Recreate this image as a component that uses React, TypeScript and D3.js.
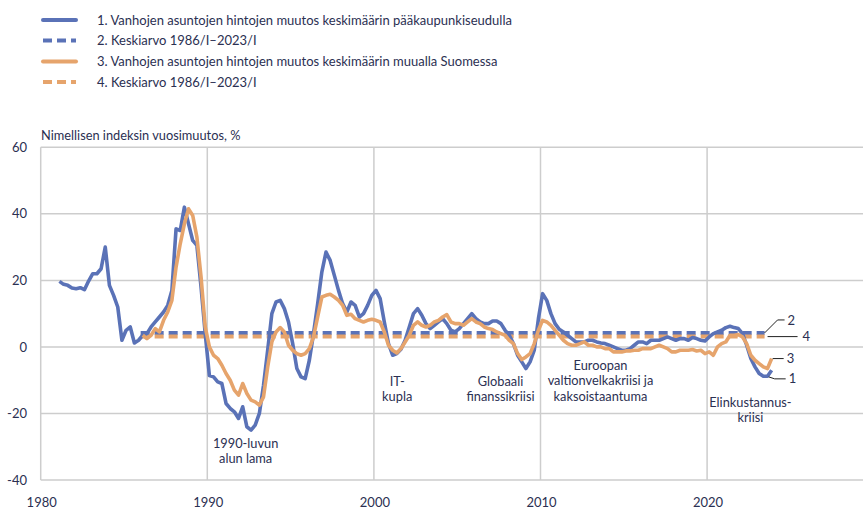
import React from "react";
import * as d3 from "d3";

// ---- data ----
// Quarterly annual change (%) of nominal index, old dwellings
const capitalStart = 1981; // first quarter 1981/I
const capitalValues: number[] = [
  19.7, 18.8, 18.5, 17.7,
  17.5, 17.8, 17.2, 19.8,
  22, 22, 23.5, 30,
  18.5, 15.5, 12, 2,
  5, 6, 1.2, 2,
  3.5, 4, 6, 7.5,
  9, 10.5, 12.5, 17,
  35.5, 35, 42, 37,
  32, 30.5, 18, 4,
  -8.6, -9, -10.5, -11,
  -17, -18.5, -19.5, -21.5,
  -18, -24, -25, -23.5,
  -20, -11.5, -1, 10,
  13.5, 14, 11.5, 7.5,
  1, -6.5, -9, -9.5,
  -4, 4, 13, 22.5,
  28.5, 26, 21.5, 17,
  13, 10.5, 13.5, 12.5,
  9, 10, 12.5, 15.5,
  17, 14.5, 7.5, 1,
  -2.5, -2, -0.7, 2,
  6, 10, 11.5, 9.5,
  7, 5.5, 6.5, 7.5,
  8.5, 7, 5, 4.5,
  5.5, 7, 8.5, 10,
  8.5, 7.5, 7, 7,
  7.8, 7.8, 7, 5,
  3.5, 1, -2.5, -4.5,
  -6.5, -4.5, -1, 8.5,
  16, 14, 10, 7,
  5.3, 4.5, 3.5, 2.5,
  1.5, 1.5, 1.5, 2,
  2, 1.5, 1.2, 1,
  0.5, 0, -0.5, -1,
  -1, -0.5, 0.5, 1.5,
  1.5, 1, 2, 2,
  2, 2.5, 3, 2.5,
  2, 2.5, 2.5, 2,
  2.8, 2.5, 2, 1.8,
  3, 4, 4.5, 5,
  5.8, 6.2, 5.8, 5.5,
  4, 0.5, -3.5, -6,
  -8, -8.8, -8.8, -7,
];

const restStart = 1986; // first quarter 1986/I
const restValues: number[] = [
  3.5, 2.5, 3.5, 5.5,
  4.5, 8, 10.5, 14,
  24, 31, 37, 41.5,
  39.5, 33, 21, 6,
  0, -2.5, -3.5, -5.5,
  -8, -10, -13, -14.5,
  -11, -14, -16, -16.5,
  -17.5, -15, -6, 1.5,
  4.5, 5.8, 4.5, 0.5,
  -1, -2, -2.5, -2,
  -0.5, 3, 9, 15,
  15.5, 15.8, 15, 14,
  12.5, 9.5, 9.8, 8.5,
  8, 7.5, 8, 8.3,
  8, 7.5, 4.5, 0.5,
  -1, -1.8, -0.5, 1.5,
  3.5, 6.5, 7.5, 6.5,
  6, 6.5, 7.5, 8,
  9, 9.7, 7.5, 7,
  7, 6.5, 7.5, 8.5,
  7.5, 7, 6, 5.5,
  5.2, 4.5, 4, 3.5,
  2, 1, -2, -3.8,
  -3, -2, 1, 5,
  8, 7.5, 6.5, 5,
  3.5, 2, 1, 0.5,
  0.5, 1, 1.5, 0.5,
  0.5, 0, 0, -0.5,
  -0.5, -1.5, -1.5, -1.5,
  -1.2, -1.2, -1, -1,
  -0.5, -0.5, -0.5, 0,
  0.5, 0, -0.5, -1.5,
  -1.5, -1, -1, -1,
  -0.8, -1.2, -1, -2,
  -1.5, -2.5, 0, 1,
  1.5, 3.5, 3.5, 3.7,
  3, 1, -2.5, -4,
  -5, -6, -6.5, -3.5,
];

const capitalMean = 4.2;
const restMean = 3.1;
const meanPeriod: [number, number] = [1986.0, 2023.45];

const xTicks = [1980, 1990, 2000, 2010, 2020];
const yTicks = [-40, -20, 0, 20, 40, 60];

const legendLabels = [
  "1. Vanhojen asuntojen hintojen muutos keskimäärin pääkaupunkiseudulla",
  "2. Keskiarvo 1986/I\u20132023/I",
  "3. Vanhojen asuntojen hintojen muutos keskimäärin muualla Suomessa",
  "4. Keskiarvo 1986/I\u20132023/I",
];

const yTitle = "Nimellisen indeksin vuosimuutos, %";

const annotations = [
  { year: 1992.3, value: -30.3, lines: ["1990-luvun", "alun lama"] },
  { year: 2001.4, value: -11.7, lines: ["IT-", "kupla"] },
  { year: 2007.6, value: -11.7, lines: ["Globaali", "finanssikriisi"] },
  { year: 2013.6, value: -6.9, lines: ["Euroopan", "valtionvelkakriisi ja", "kaksoistaantuma"] },
  { year: 2022.6, value: -18, lines: ["Elinkustannus-", "kriisi"] },
];

// ---- styles ----
const BLUE = "#5a72b7";
const ORANGE = "#e6a46c";
const TEXT = "#2b3052";
const GRID = "#cdcdcd";
const FONT = "Lato, 'Open Sans', sans-serif";

export default function App() {
  const W = 863;
  const H = 509;
  const x = d3.scaleLinear().domain([1980, 2030]).range([40.7, 873.7]);
  const y = d3.scaleLinear().domain([-40, 60]).range([480, 147.3]);

  const capitalPts = capitalValues.map((v, i) => [capitalStart + 0.125 + i * 0.25, v] as [number, number]);
  const restPts = restValues.map((v, i) => [restStart + 0.125 + i * 0.25, v] as [number, number]);

  const line = d3
    .line<[number, number]>()
    .x((d) => x(d[0]))
    .y((d) => y(d[1]));

  const lastCap = capitalPts[capitalPts.length - 1];
  const lastRest = restPts[restPts.length - 1];
  const meanEnd = x(meanPeriod[1]);

  const legendY = [20, 40.5, 61.5, 82];
  const legendStyles = [
    { color: BLUE, dash: undefined },
    { color: BLUE, dash: "9,5" },
    { color: ORANGE, dash: undefined },
    { color: ORANGE, dash: "9,5" },
  ];

  return (
    <svg
      width={W}
      height={H}
      style={{ position: "absolute", left: 0, top: 0, background: "#fff" }}
      fontFamily={FONT}
    >
      {/* legend */}
      {legendLabels.map((t, i) => (
        <g key={i}>
          <line
            x1={43}
            x2={76}
            y1={legendY[i]}
            y2={legendY[i]}
            stroke={legendStyles[i].color}
            strokeWidth={4}
            strokeDasharray={legendStyles[i].dash}
            strokeLinecap={legendStyles[i].dash ? "butt" : "round"}
          />
          <text x={97} y={legendY[i] + 4.6} fontSize={13} fill={TEXT}>
            {t}
          </text>
        </g>
      ))}

      {/* y title */}
      <text x={41} y={139.5} fontSize={12.8} fill={TEXT}>
        {yTitle}
      </text>

      {/* grid */}
      {yTicks.map((t) => (
        <g key={t}>
          <line x1={x(1980)} x2={W} y1={y(t)} y2={y(t)} stroke={GRID} strokeWidth={1.5} />
          <text x={27} y={y(t) + 4.6} fontSize={13} fill={TEXT} textAnchor="end">
            {t}
          </text>
        </g>
      ))}
      {xTicks.map((t) => (
        <g key={t}>
          <line x1={x(t)} x2={x(t)} y1={y(60)} y2={y(-40)} stroke={GRID} strokeWidth={1.5} />
          <text x={x(t) + 1} y={506.5} fontSize={13} fill={TEXT} textAnchor="middle">
            {t}
          </text>
        </g>
      ))}

      {/* mean lines */}
      <line
        x1={x(meanPeriod[0])}
        x2={meanEnd}
        y1={y(capitalMean)}
        y2={y(capitalMean)}
        stroke={BLUE}
        strokeWidth={4}
        strokeDasharray="9,5"
      />
      <line
        x1={x(meanPeriod[0])}
        x2={meanEnd}
        y1={y(restMean)}
        y2={y(restMean)}
        stroke={ORANGE}
        strokeWidth={4}
        strokeDasharray="9,5"
      />

      {/* series */}
      <path d={line(capitalPts) || ""} fill="none" stroke={BLUE} strokeWidth={3.6} strokeLinejoin="round" />
      <path d={line(restPts) || ""} fill="none" stroke={ORANGE} strokeWidth={3.6} strokeLinejoin="round" />

      {/* series labels with leaders */}
      <g stroke="#222" strokeWidth={1} fill="none">
        <polyline points={`${meanEnd},${y(capitalMean)} ${meanEnd + 13},${y(capitalMean) - 13} ${meanEnd + 20},${y(capitalMean) - 13}`} />
        <line x1={meanEnd + 3} x2={meanEnd + 33} y1={y(restMean)} y2={y(restMean)} />
        <line x1={x(lastRest[0]) + 1} x2={x(lastRest[0]) + 12} y1={y(lastRest[1])} y2={y(lastRest[1])} />
        <polyline points={`${x(lastCap[0]) - 3},${y(lastCap[1] - 2)} ${x(lastCap[0]) + 3},${y(lastCap[1] - 2.6)} ${x(lastCap[0]) + 14},${y(lastCap[1] - 2.6)}`} />
      </g>
      <g fontSize={13} fill={TEXT}>
        <text x={meanEnd + 23} y={y(capitalMean) - 13 + 4.6}>2</text>
        <text x={meanEnd + 38} y={y(restMean) + 4.6}>4</text>
        <text x={x(lastRest[0]) + 15} y={y(lastRest[1]) + 4.6}>3</text>
        <text x={x(lastCap[0]) + 17} y={y(lastCap[1] - 2.6) + 4.6}>1</text>
      </g>

      {/* annotations */}
      {annotations.map((a, i) => (
        <text key={i} x={x(a.year)} y={y(a.value)} fontSize={12.8} fill={TEXT} textAnchor="middle">
          {a.lines.map((l, j) => (
            <tspan key={j} x={x(a.year)} dy={j === 0 ? 0 : 15.5}>
              {l}
            </tspan>
          ))}
        </text>
      ))}
    </svg>
  );
}
